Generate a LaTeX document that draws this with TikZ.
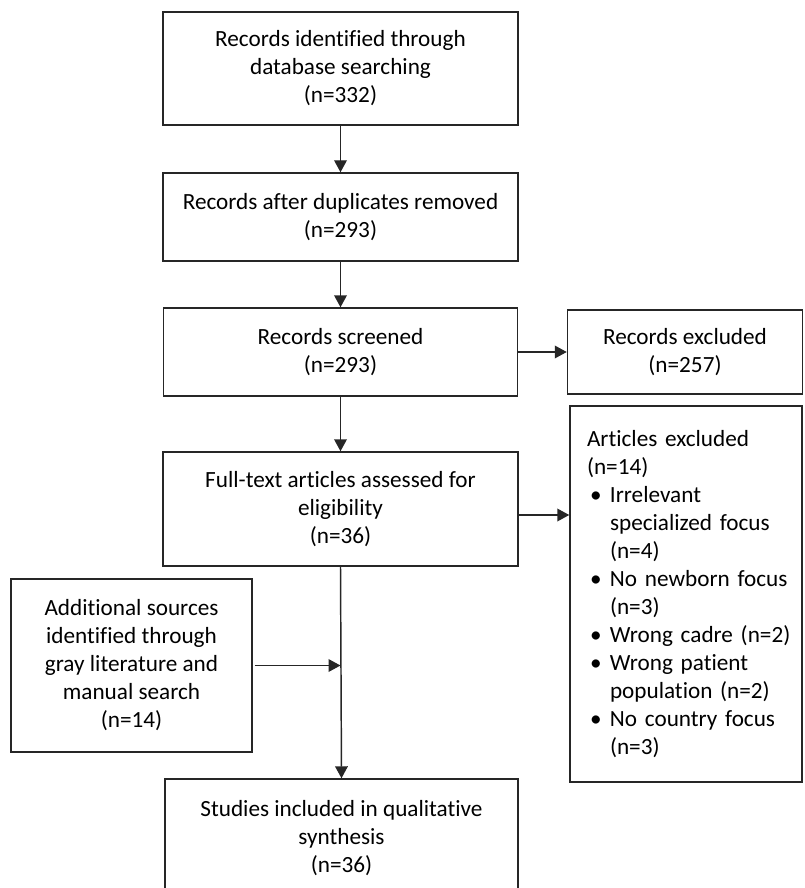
\documentclass[tikz,border=0pt]{standalone}
\usepackage{fontspec}
\setmainfont{Carlito}[Ligatures={NoCommon}]
\usetikzlibrary{arrows.meta}
\begin{document}
\begin{tikzpicture}[x=0.75pt,y=-0.75pt,
  every node/.style={font=\fontsize{17.4}{21}\selectfont, text=black},
  box/.style={draw=black!85, line width=1.1pt, align=center, inner sep=0pt},
  lbox/.style={draw=black!85, line width=1.1pt, align=left, inner xsep=12.75pt, inner ysep=0pt, text width=148.5pt},
  arr/.style={draw=black!85, line width=1.1pt, -{Triangle[length=9pt,width=9.5pt]}},
  conn/.style={draw=black!85, line width=1.1pt}]
\useasboundingbox (0,0) rectangle (804,888);
\clip (0,0) rectangle (804,888);
\node[box, minimum width=266.25pt, minimum height=84.75pt] (b1) at (340.5,68.5)
  {Records identified through\\database searching\\(n=332)};
\node[box, minimum width=266.25pt, minimum height=66pt] (b2) at (340.5,217)
  {Records after duplicates removed\\(n=293)};
\node[box, minimum width=265.5pt, minimum height=66pt] (b3) at (340.5,352)
  {Records screened\\(n=293)};
\node[box, minimum width=266.25pt, minimum height=85.5pt] (b4) at (340.5,509)
  {Full-text articles assessed for\\eligibility\\(n=36)};
\node[box, minimum width=264.75pt, minimum height=88.5pt] (b5) at (341.5,838)
  {Studies included in qualitative\\synthesis\\(n=36)};
\node[box, minimum width=176.25pt, minimum height=63pt] (rex) at (685,352)
  {Records excluded\\(n=257)};
\node[lbox, minimum height=282pt] (aex) at (686,594)
  {Articles excluded\\
   (n=14)\\
   \mbox{\hspace*{2.25pt}\makebox[15pt][l]{\textbullet}Irrelevant}\\
   \mbox{\hspace*{17.25pt}specialized focus}\\
   \mbox{\hspace*{17.25pt}(n=4)}\\
   \mbox{\hspace*{2.25pt}\makebox[15pt][l]{\textbullet}No newborn focus}\\
   \mbox{\hspace*{17.25pt}(n=3)}\\
   \mbox{\hspace*{2.25pt}\makebox[15pt][l]{\textbullet}Wrong cadre (n=2)}\\
   \mbox{\hspace*{2.25pt}\makebox[15pt][l]{\textbullet}Wrong patient}\\
   \mbox{\hspace*{17.25pt}population (n=2)}\\
   \mbox{\hspace*{2.25pt}\makebox[15pt][l]{\textbullet}No country focus}\\
   \mbox{\hspace*{17.25pt}(n=3)}};
\node[box, minimum width=180.75pt, minimum height=129.75pt] (add) at (131.5,665.5)
  {Additional sources\\identified through\\gray literature and\\manual search\\(n=14)};
\draw[arr] (b1.south) -- (b2.north);
\draw[arr] (b2.south) -- (b3.north);
\draw[arr] (b3.south) -- (b4.north);
\draw[arr] (b3.east) -- (rex.west);
\draw[arr] ([yshift=-4.5pt]b4.east) coordinate (a4) -- (a4 -| aex.west);
\draw[arr] (b4.south) -- (b5.north);
\coordinate (j) at (b4.south |- add.east);
\draw[arr] ([xshift=1.5pt]add.east) -- (j);
\end{tikzpicture}
\end{document}
